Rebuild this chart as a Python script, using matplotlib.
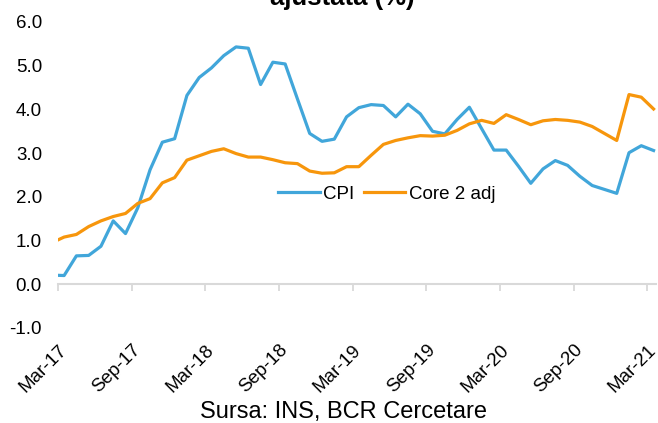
import numpy as np
import matplotlib
matplotlib.use("Agg")
import matplotlib.pyplot as plt
from matplotlib.transforms import ScaledTranslation

plt.rcParams['font.family'] = ['Liberation Sans', 'DejaVu Sans']

# luni: Feb-17 ... Mar-21 (Feb-17 e taiat de marginea stanga)
months = ['Feb-17', 'Mar-17', 'Apr-17', 'May-17', 'Jun-17', 'Jul-17', 'Aug-17', 'Sep-17', 'Oct-17', 'Nov-17', 'Dec-17',
          'Jan-18', 'Feb-18', 'Mar-18', 'Apr-18', 'May-18', 'Jun-18', 'Jul-18', 'Aug-18', 'Sep-18', 'Oct-18', 'Nov-18', 'Dec-18',
          'Jan-19', 'Feb-19', 'Mar-19', 'Apr-19', 'May-19', 'Jun-19', 'Jul-19', 'Aug-19', 'Sep-19', 'Oct-19', 'Nov-19', 'Dec-19',
          'Jan-20', 'Feb-20', 'Mar-20', 'Apr-20', 'May-20', 'Jun-20', 'Jul-20', 'Aug-20', 'Sep-20', 'Oct-20', 'Nov-20', 'Dec-20',
          'Jan-21', 'Feb-21', 'Mar-21']

cpi = [0.21, 0.20, 0.65, 0.66, 0.87, 1.45, 1.16, 1.75, 2.62, 3.25, 3.33,
       4.32, 4.73, 4.95, 5.23, 5.43, 5.40, 4.57, 5.08, 5.04, 4.24, 3.45, 3.27,
       3.32, 3.83, 4.04, 4.11, 4.09, 3.83, 4.12, 3.90, 3.50, 3.44, 3.77, 4.05,
       3.56, 3.07, 3.07, 2.70, 2.31, 2.64, 2.83, 2.72, 2.47, 2.26, 2.17, 2.08,
       3.01, 3.17, 3.06]

core2 = [0.95, 1.08, 1.14, 1.32, 1.45, 1.55, 1.62, 1.85, 1.96, 2.32, 2.44,
         2.84, 2.94, 3.04, 3.10, 2.99, 2.91, 2.91, 2.85, 2.78, 2.76, 2.59, 2.54,
         2.55, 2.69, 2.69, 2.95, 3.20, 3.29, 3.35, 3.40, 3.39, 3.41, 3.52, 3.67,
         3.75, 3.68, 3.88, 3.77, 3.65, 3.74, 3.77, 3.75, 3.71, 3.61, 3.45, 3.29,
         4.34, 4.28, 4.01]

tick_labels = ['Mar-17', 'Sep-17', 'Mar-18', 'Sep-18', 'Mar-19', 'Sep-19', 'Mar-20', 'Sep-20', 'Mar-21']


def plot_chart(save_path="out.png"):
    # punctele stau la mijlocul lunii, tick-urile la marginea ei
    x = np.arange(len(months)) - 0.5
    ticks = [months.index(m) - 1 for m in tick_labels]

    fig = plt.figure(figsize=(6.58, 4.23), dpi=100)
    ax = fig.add_axes([0.0881, 0.2246, 0.9089, 0.7234])

    ax.plot(x, cpi, color='#41a6da', lw=2.3, label='CPI')
    ax.plot(x, core2, color='#f7960c', lw=2.3, label='Core 2 adj')

    ax.set_xlim(0, 48.7)
    ax.set_ylim(-1, 6)
    ax.set_yticks(np.arange(-1, 7, 1))
    ax.set_yticklabels([f"{v:.1f}" for v in np.arange(-1, 7, 1)], fontsize=13.5)
    ax.tick_params(axis='y', length=0, pad=11.5)

    ax.set_xticks(ticks)
    ax.set_xticklabels(tick_labels, fontsize=13.5, rotation=45, ha='right',
                       rotation_mode='anchor', va='center')
    ax.tick_params(axis='x', length=0, pad=14)
    shift = ScaledTranslation(0.06, 0, fig.dpi_scale_trans)
    for lbl in ax.get_xticklabels():
        lbl.set_transform(lbl.get_transform() + shift)

    for s in ax.spines.values():
        s.set_visible(False)

    # axa orizontala la zero, cu tick-uri in jos
    zero = ax.secondary_xaxis(1 / 7)
    zero.set_xticks(ticks)
    zero.set_xticklabels([])
    zero.tick_params(axis='x', direction='out', length=5, width=1.3, color='#d9d9d9')
    zero.spines['bottom'].set_color('#d9d9d9')
    zero.spines['bottom'].set_linewidth(1.5)
    for k in ['top', 'left', 'right']:
        zero.spines[k].set_visible(False)

    ax.legend(loc='center', bbox_to_anchor=(0.55, 0.438), ncol=2, frameon=False,
              fontsize=13.5, handlelength=2.2, handletextpad=0.2, columnspacing=0.5)

    fig.text(0.52, 1 - 5 / 423, "ajustată (%)", fontsize=18.5, fontweight='bold',
             ha='center', va='baseline')
    fig.text(343 / 658, 5 / 423, "Sursa: INS, BCR Cercetare", fontsize=17,
             ha='center', va='baseline')

    fig.savefig(save_path, dpi=100)
    plt.close(fig)


if __name__ == "__main__":
    plot_chart()
